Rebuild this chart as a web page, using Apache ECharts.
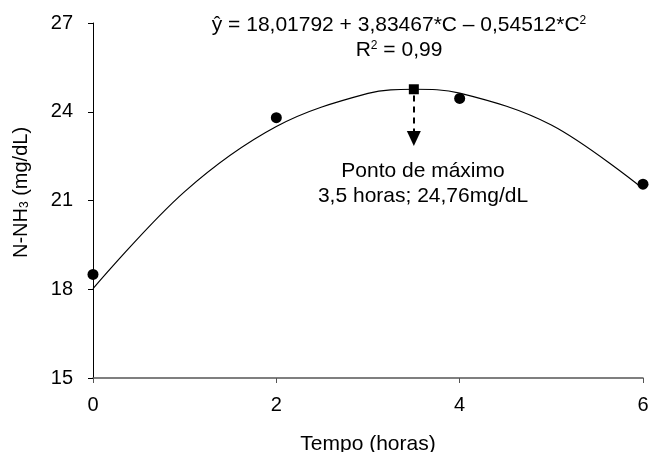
<!DOCTYPE html>
<html>
<head>
<meta charset="utf-8">
<script src="https://cdn.jsdelivr.net/npm/echarts@6/dist/echarts.min.js"></script>
<style>
  html, body { margin: 0; padding: 0; background: #fff; }
  #chart { width: 649px; height: 452px; }
</style>
</head>
<body>
<div id="chart"></div>
<script>
// N-NH3 observado (mg/dL) por tempo de coleta (horas)
var tempos = [0, 2, 4, 6];
var nh3Obs = [18.5, 23.8, 24.45, 21.55];

// curva ajustada
var curvaX = [0, 1, 2, 3, 3.5, 4, 5, 6];
var curvaY = [18.02, 21.3, 23.5, 24.62, 24.76, 24.63, 23.55, 21.4];

// ponto de maximo e ponta da seta
var maxPonto = [3.5, 24.76];
var setaIni = 24.55;
var setaFim = 23.1;

var fonte = 'Liberation Sans, Arial, sans-serif';

var chart = echarts.init(document.getElementById('chart'));

var option = {
  backgroundColor: '#fff',
  animation: false,
  grid: { left: 93, right: 6, top: 23, bottom: 74, containLabel: false, outerBoundsMode: 'none' },
  xAxis: {
    type: 'value',
    min: 0, max: 6, interval: 2,
    name: 'Tempo (horas)',
    nameLocation: 'middle',
    nameGap: 56,
    nameTextStyle: { fontFamily: fonte, fontSize: 21, color: '#000' },
    axisLine: { lineStyle: { color: '#555', width: 1.5 } },
    axisTick: { length: 5, lineStyle: { color: '#555' } },
    axisLabel: { fontFamily: fonte, fontSize: 20, color: '#000', margin: 17 },
    splitLine: { show: false }
  },
  yAxis: {
    type: 'value',
    min: 15, max: 27, interval: 3,
    name: 'N-NH{sub|3} (mg/dL)',
    nameLocation: 'middle',
    nameGap: 62,
    nameRotate: 90,
    nameTextStyle: {
      fontFamily: fonte, fontSize: 20, color: '#000', padding: [0, 0, 0, 16],
      rich: {
        sub: { fontFamily: fonte, fontSize: 12, color: '#000', verticalAlign: 'bottom' }
      }
    },
    axisLine: { show: true, lineStyle: { color: '#000', width: 1 } },
    axisTick: { show: true, length: 5, lineStyle: { color: '#000' } },
    axisLabel: { fontFamily: fonte, fontSize: 20, color: '#000', margin: 20 },
    splitLine: { show: false }
  },
  series: [
    {
      name: 'ajuste',
      type: 'line',
      data: curvaX.map(function (x, i) { return [x, curvaY[i]]; }),
      smooth: 0.35,
      showSymbol: false,
      lineStyle: { color: '#000', width: 1.2 },
      z: 2
    },
    {
      name: 'observado',
      type: 'scatter',
      data: tempos.map(function (x, i) { return [x, nh3Obs[i]]; }),
      symbol: 'circle',
      symbolSize: 11,
      itemStyle: { color: '#000', opacity: 1 },
      z: 3
    },
    {
      name: 'maximo',
      type: 'scatter',
      data: [maxPonto],
      symbol: 'rect',
      symbolSize: 10,
      itemStyle: { color: '#000', opacity: 1 },
      z: 4,
      markLine: {
        silent: true,
        symbol: ['none', 'triangle'],
        symbolSize: [14, 15],
        label: { show: false },
        lineStyle: { color: '#000', type: [6, 5], width: 2, opacity: 1 },
        data: [[
          { coord: [maxPonto[0], setaIni] },
          { coord: [maxPonto[0], setaFim] }
        ]]
      }
    }
  ]
};

chart.setOption(option);

// textos centrados em x
var g = [
  { type: 'text', x: 399, y: 15, style: { text: 'ŷ = 18,01792 + 3,83467*C – 0,54512*C{sup|2}', rich: { sup: { fontSize: 12, fontFamily: fonte, padding: [0, 0, 9, 0] } } } },
  { type: 'text', x: 399, y: 40, style: { text: 'R{sup|2} = 0,99', rich: { sup: { fontSize: 12, fontFamily: fonte, padding: [0, 0, 9, 0] } } } },
  { type: 'text', x: 423, y: 161, style: { text: 'Ponto de máximo' } },
  { type: 'text', x: 423, y: 186, style: { text: '3,5 horas; 24,76mg/dL' } }
];
g.forEach(function (e) {
  e.style.fontFamily = fonte;
  e.style.fontSize = 21;
  e.style.fill = '#000';
  e.style.align = 'center';
  e.style.verticalAlign = 'top';
});
chart.setOption({ graphic: g });
</script>
</body>
</html>
